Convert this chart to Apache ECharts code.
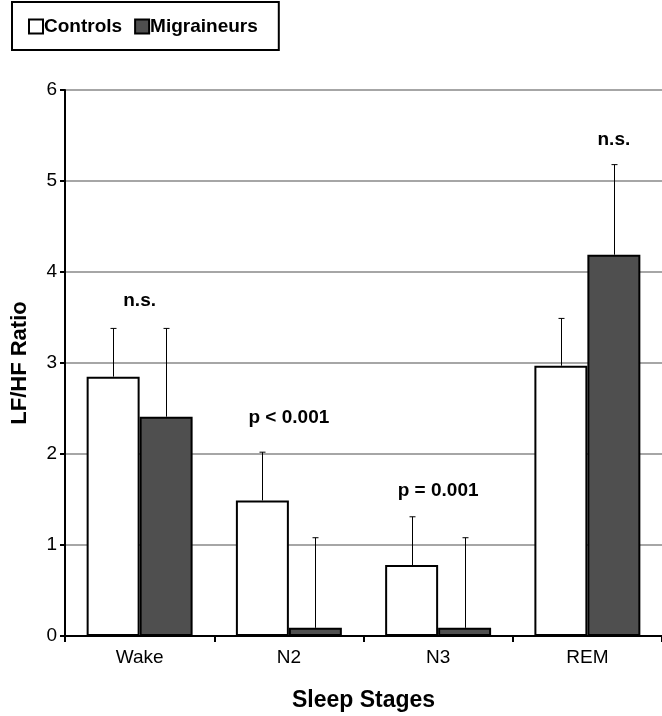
<!DOCTYPE html>
<html><head><meta charset="utf-8">
<script src="https://cdn.jsdelivr.net/npm/echarts@6/dist/echarts.min.js"></script>
<style>html,body{margin:0;padding:0;background:#fff}#c{width:662px;height:716px}</style>
</head><body><div id="c"></div>
<script>
const categories = ['Wake', 'N2', 'N3', 'REM'];
const controls = [2.85, 1.49, 0.78, 2.97];
const controlsErr = [0.53, 0.53, 0.53, 0.52];
const migraineurs = [2.41, 0.09, 0.09, 4.19];
const migraineursErr = [0.97, 0.99, 0.99, 0.99];
const annotationText = ['n.s.', 'p < 0.001', 'p = 0.001', 'n.s.'];
const annotationLevel = [3.68, 2.4, 1.6, 5.45];
const annotationOver = ['both', 'both', 'both', 'migraineurs'];
const yTicks = [0, 1, 2, 3, 4, 5, 6];

const FONT = '"Liberation Sans", Arial, sans-serif';
const GAP = 0.29;

function errSeries(vals, errs, side) {
  return {
    type: 'custom', z: 5, silent: true,
    data: vals.map((v, i) => [i, v, v + errs[i]]),
    renderItem: function (params, api) {
      const band = api.size([1, 0])[0];
      const bw = band * (1 - GAP) / 2;
      const off = side * bw / 2;
      const p0 = api.coord([api.value(0), api.value(1)]);
      const p1 = api.coord([api.value(0), api.value(2)]);
      const x = Math.round(p0[0] + off) + 0.5;
      return {
        type: 'group', children: [
          { type: 'line', shape: { x1: x, y1: p0[1], x2: x, y2: p1[1] }, style: { stroke: '#000', lineWidth: 1 } },
          { type: 'line', shape: { x1: x - 3, y1: p1[1], x2: x + 3, y2: p1[1] }, style: { stroke: '#000', lineWidth: 1 } }
        ]
      };
    }
  };
}

const chart = echarts.init(document.getElementById('c'));
chart.setOption({
  animation: false,
  backgroundColor: '#fff',
  textStyle: { fontFamily: FONT },
  legend: {
    left: 12, top: 2,
    padding: [15, 21, 14, 16],
    borderColor: '#000', borderWidth: 2,
    icon: 'rect',
    itemWidth: 14, itemHeight: 14, itemGap: 12,
    data: ['Controls', 'Migraineurs'],
    textStyle: { fontFamily: FONT, fontSize: 19, fontWeight: 'bold', color: '#000', padding: [0, 0, 0, -4] }
  },
  grid: { left: 65, right: 0, top: 90, bottom: 80, containLabel: false, outerBoundsMode: 'none' },
  xAxis: {
    type: 'category', data: categories,
    name: 'Sleep Stages', nameLocation: 'middle', nameGap: 53,
    nameTextStyle: { fontFamily: FONT, fontSize: 23, fontWeight: 'bold', color: '#000' },
    axisLine: { lineStyle: { color: '#000', width: 2 } },
    axisTick: { show: true, length: 6, lineStyle: { color: '#000', width: 2 } },
    axisLabel: { fontFamily: FONT, fontSize: 19, color: '#000', margin: 12 }
  },
  yAxis: {
    type: 'value', min: yTicks[0], max: yTicks[yTicks.length - 1], interval: 1,
    name: 'LF/HF Ratio', nameLocation: 'middle', nameGap: 34, nameRotate: 90,
    nameTextStyle: { fontFamily: FONT, fontSize: 22, fontWeight: 'bold', color: '#000' },
    axisLine: { show: true, lineStyle: { color: '#000', width: 2 } },
    axisTick: { show: true, length: 5, lineStyle: { color: '#000', width: 2 } },
    axisLabel: { fontFamily: FONT, fontSize: 19, color: '#000', margin: 8 },
    splitLine: { lineStyle: { color: '#a6a6a6', width: 2 } }
  },
  series: [
    {
      name: 'Controls', type: 'bar', data: controls,
      barGap: '0%', barCategoryGap: (GAP * 100) + '%',
      itemStyle: { color: '#fff', borderColor: '#000', borderWidth: 2 }
    },
    {
      name: 'Migraineurs', type: 'bar', data: migraineurs,
      itemStyle: { color: '#4f4f4f', borderColor: '#000', borderWidth: 2 }
    },
    errSeries(controls, controlsErr, -1),
    errSeries(migraineurs, migraineursErr, 1),
    {
      type: 'custom', z: 6, silent: true,
      data: annotationLevel.map((v, i) => [i, v]),
      renderItem: function (params, api) {
        const i = params.dataIndex;
        const band = api.size([1, 0])[0];
        const bw = band * (1 - GAP) / 2;
        const p = api.coord([api.value(0), api.value(1)]);
        const off = annotationOver[i] === 'migraineurs' ? bw / 2 : (annotationOver[i] === 'controls' ? -bw / 2 : 0);
        return {
          type: 'text',
          style: {
            x: p[0] + off, y: p[1], text: annotationText[i],
            align: 'center', verticalAlign: 'middle',
            font: 'bold 19px ' + FONT, fill: '#000'
          }
        };
      }
    }
  ]
});
</script>
</body></html>
